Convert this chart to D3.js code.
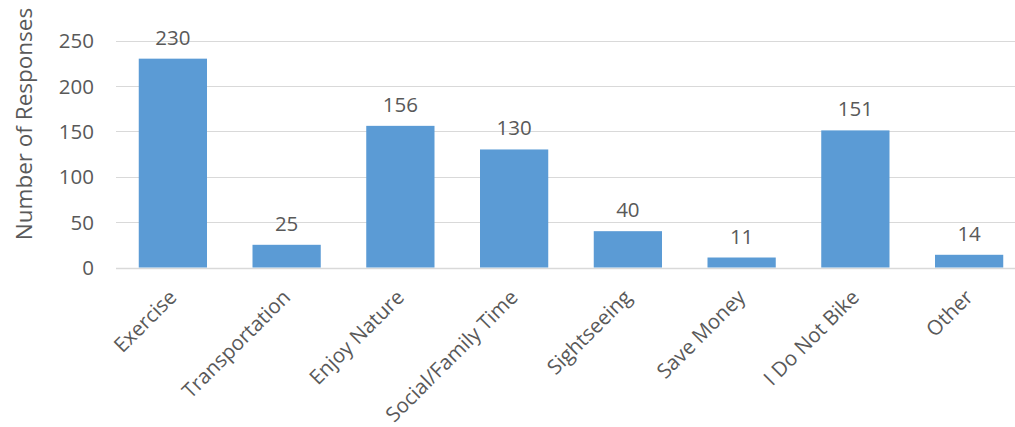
<!DOCTYPE html>
<html><head><meta charset="utf-8">
<script src="https://cdn.jsdelivr.net/npm/d3@7"></script>
<style>body{margin:0;background:#fff;} text{font-family:"Open Sans",sans-serif;fill:#595959;}</style>
</head><body><svg id="c" width="1015" height="427"></svg>
<script>
const categories = ["Exercise","Transportation","Enjoy Nature","Social/Family Time","Sightseeing","Save Money","I Do Not Bike","Other"];
const values = [230,25,156,130,40,11,151,14];
const yTicks = [0,50,100,150,200,250];
const yTitle = "Number of Responses";

const svg = d3.select("#c");
const x = d3.scaleBand().domain(categories).range([116,1026]).paddingInner(0.4).paddingOuter(0.2);
const y = d3.scaleLinear().domain([0,250]).range([267.5,40.5]);

const grid = svg.append("g");
grid.selectAll("line").data(yTicks).join("line")
  .attr("x1",116).attr("x2",1015)
  .attr("y1",d=>Math.round(y(d))+0.5).attr("y2",d=>Math.round(y(d))+0.5)
  .attr("stroke","#d9d9d9").attr("stroke-width",d=>d===0?1.5:1);

const yAxis = d3.axisLeft(y).tickValues(yTicks).tickSize(0).tickPadding(0);
const ya = svg.append("g").attr("transform","translate(94,0)").call(yAxis);
ya.select(".domain").remove();
ya.selectAll("text").style("font-size","20.5px").attr("fill","#595959").attr("dy","0.35em");

svg.append("g").selectAll("rect").data(values).join("rect")
  .attr("x",(d,i)=>x(categories[i])).attr("width",x.bandwidth())
  .attr("y",d=>y(d)).attr("height",d=>y(0)-y(d)).attr("fill","#5b9bd5");

svg.append("g").selectAll("text").data(values).join("text")
  .attr("x",(d,i)=>x(categories[i])+x.bandwidth()/2).attr("y",d=>y(d)-14)
  .attr("text-anchor","middle").style("font-size","20.5px").text(d=>d);

const xAxis = d3.axisBottom(x).tickSize(0).tickPadding(0);
const xa = svg.append("g").attr("transform","translate(0,267.5)").call(xAxis);
xa.select(".domain").remove();
xa.selectAll("text").style("font-size","20.5px").attr("fill","#595959")
  .attr("text-anchor","end").attr("dy",null).attr("y",0)
  .attr("transform","translate(5,31) rotate(-45)");

svg.append("text").attr("transform","translate(24,124) rotate(-90)")
  .attr("text-anchor","middle").attr("dy","0.35em").style("font-size","22.5px").text(yTitle);
</script></body></html>
